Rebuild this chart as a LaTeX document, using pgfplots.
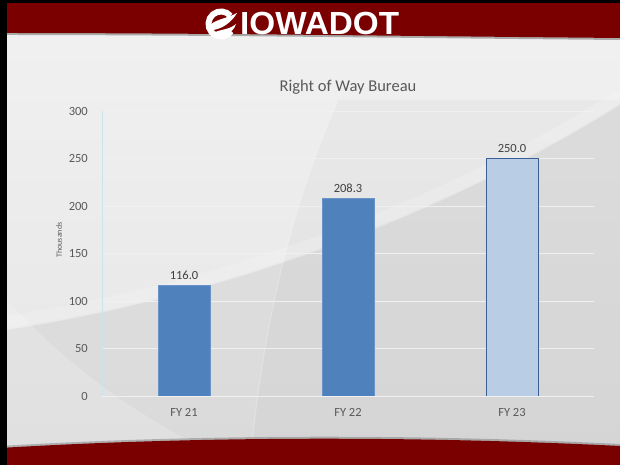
\documentclass[border=0pt]{standalone}
\usepackage{fontspec}
\setmainfont{Carlito}
\newfontfamily\logofont{Liberation Sans}
\usepackage{pgfplots}
\pgfplotsset{compat=1.18}
\definecolor{dotred}{HTML}{7A0000}
\definecolor{barblue}{HTML}{4F81BD}
\definecolor{barlight}{HTML}{B9CDE5}
\definecolor{baredge}{HTML}{3A5F95}
\definecolor{labgray}{HTML}{595959}
\definecolor{datagray}{HTML}{404040}
\definecolor{yaxcol}{HTML}{CDE3EC}
\begin{document}
\begin{tikzpicture}[x=1pt,y=1pt]
\useasboundingbox (0,0) rectangle (620,465);
% ---------- slide background ----------
\begin{scope}
\clip (0,0) rectangle (620,465);
\shade[top color=white!89!gray, bottom color=white!80!gray] (0,0) rectangle (620,465);
\begin{scope}[shift={(0,465)},yscale=-1]
  % darker region below the swoosh
  \fill[gray!60!white, opacity=0.22] (7,330) .. controls (200,300) and (420,230) .. (620,105) -- (620,465) -- (7,465) -- cycle;
  % lower-left lighter corner
  \fill[white, opacity=0.18] (7,300) .. controls (80,380) and (160,430) .. (240,465) -- (7,465) -- cycle;
  % big faint arc
  \draw[white, opacity=0.25, line width=1.2pt] (250,465) .. controls (262,330) and (290,210) .. (338,100);
  \fill[gray, opacity=0.05] (250,465) .. controls (262,330) and (290,210) .. (338,100) -- (620,100) -- (620,465) -- cycle;
  % light swoosh band
  \draw[white, opacity=0.18, line width=12pt] (7,322) .. controls (200,292) and (420,222) .. (620,96);
  % header
  \fill[black!60, opacity=0.5] (0,0) -- (620,0) -- (620,40) .. controls (400,38) and (200,35) .. (0,35) -- cycle;
  \fill[dotred] (0,0) -- (620,0) -- (620,38) .. controls (400,36) and (200,33) .. (0,33) -- cycle;
  % footer
  \fill[black!60, opacity=0.4] (0,465) -- (0,446) .. controls (200,434) and (420,434) .. (620,444) -- (620,465) -- cycle;
  \fill[dotred] (0,465) -- (0,448) .. controls (200,436) and (420,436) .. (620,446) -- (620,465) -- cycle;
  % black border
  \fill[black] (0,0) rectangle (620,3);
  \fill[black] (0,0) rectangle (7,465);
\end{scope}
% logo icon (normal orientation, centre at 221,441)
\draw[white, line width=6pt] (221,441) ++(40:12.5) arc (40:325:12.5);
\fill[white] (207,437) .. controls (214,446) and (226,446) .. (237,452) .. controls (232,443) and (222,436) .. (213,435) -- cycle;
\fill[white] (213,432) .. controls (221,436) and (229,435) .. (236,441) .. controls (233,431) and (222,428) .. (213,432) -- cycle;
\end{scope}
\node[anchor=base west, inner sep=0pt, text=white, font=\logofont\bfseries\fontsize{32}{32}\selectfont, xscale=1.04] at (240,430) {IOWADOT};
% ---------- chart ----------
\begin{axis}[
  at={(102pt,69pt)}, anchor=south west,
  scale only axis, width=492pt, height=285pt,
  xmin=-0.5, xmax=2.5, ymin=0, ymax=300,
  xtick={0,1,2}, xticklabels={FY 21,FY 22,FY 23},
  ytick={0,50,...,300},
  ymajorgrids,
  grid style={color=white!88!gray, line width=0.8pt},
  axis x line*=bottom, axis y line*=left,
  x axis line style={color=white!88!gray, line width=0.8pt},
  y axis line style={color=yaxcol, line width=0.8pt},
  major tick length=0pt,
  /pgf/number format/assume math mode=true,
  tick label style={font=\fontsize{12.5}{14}\selectfont, text=labgray},
  yticklabel style={anchor=east, inner sep=0pt, xshift=-14pt},
  xticklabel style={anchor=base, inner sep=0pt, yshift=-20.5pt},
  title={Right of Way Bureau},
  title style={font=\fontsize{16.5}{18}\selectfont, text=labgray, at={(axis description cs:0.5,1)}, anchor=base, yshift=13pt},
  ylabel={Thousands},
  ylabel style={font=\fontsize{8}{9}\selectfont, text=labgray, at={(axis description cs:-0.087,0.547)}, anchor=center},
  nodes near coords={\pgfmathprintnumber[fixed,fixed zerofill,precision=1]{\pgfplotspointmeta}},
  nodes near coords style={font=\fontsize{12.5}{14}\selectfont, text=datagray, anchor=base, inner sep=0pt, yshift=6pt},
]
\addplot[ybar, bar width=52pt, bar shift=0pt, fill=barblue, draw=barblue!85!white, line width=0.6pt] coordinates {(0,116.0) (1,208.3)};
\addplot[ybar, bar width=52pt, bar shift=0pt, fill=barlight, draw=baredge, line width=0.8pt] coordinates {(2,250.0)};
\end{axis}
\end{tikzpicture}
\end{document}
